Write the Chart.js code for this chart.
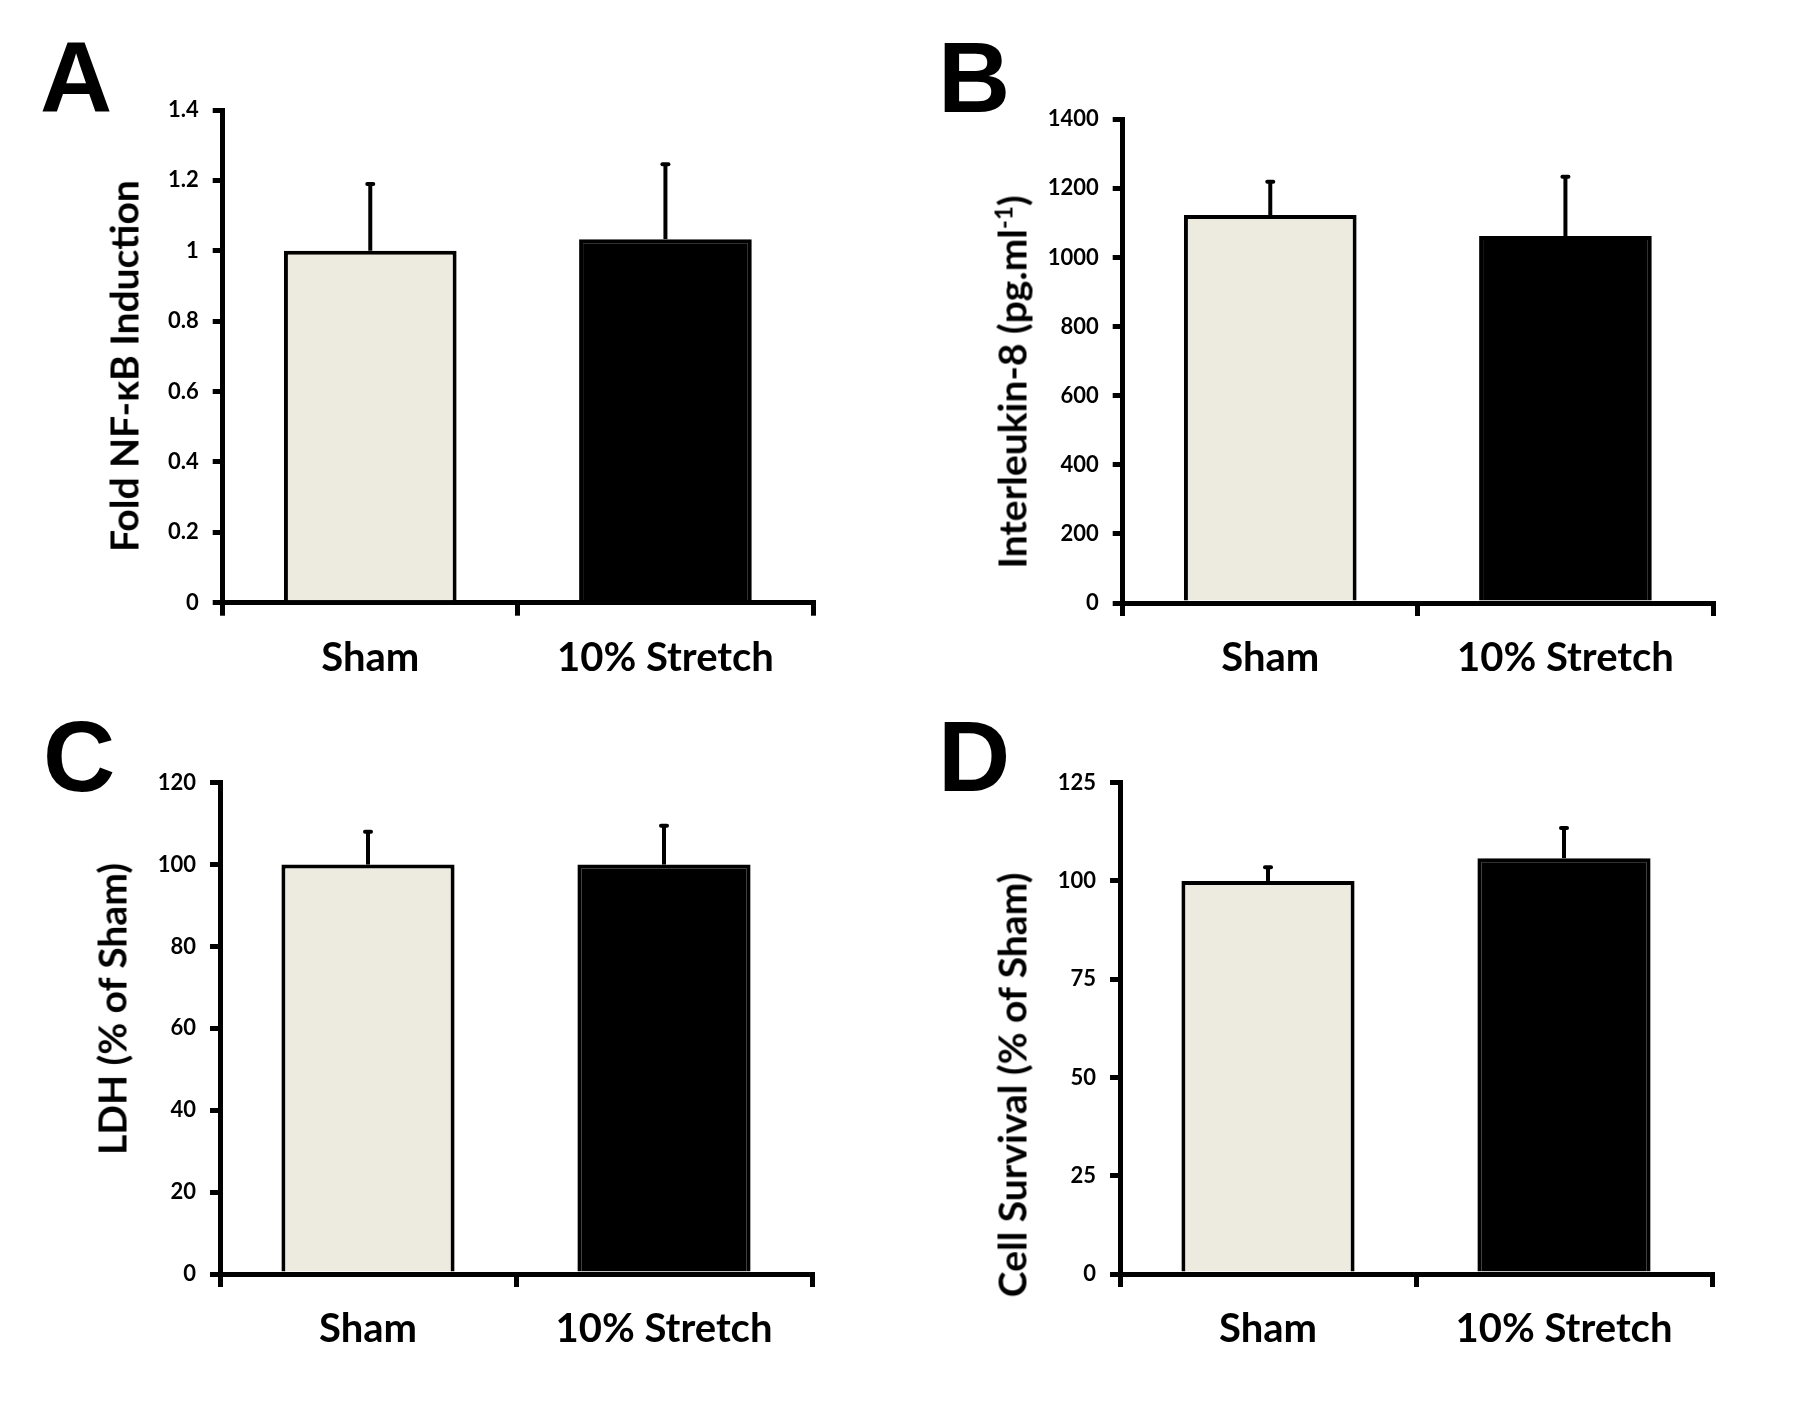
<!DOCTYPE html>
<html>
<head>
<meta charset="utf-8">
<script src="https://cdn.jsdelivr.net/npm/chart.js@4.4.1/dist/chart.umd.min.js"></script>
<style>
  body { margin: 0; background: #fff; }
  #fig { position: relative; width: 1800px; height: 1402px; background: #fff; overflow: hidden; }
  .panel { position: absolute; width: 900px; height: 701px; }
  .letter { position: absolute; font: bold 100px/100px "Liberation Sans", Arial, sans-serif; color: #000; }
  .ytitle { position: absolute; font: bold 39px/1 Lato, sans-serif; color: #000; white-space: nowrap;
            transform: translate(-50%, -50%) rotate(-90deg); }
  .ytitle sup { font-size: 24px; line-height: 0; }
</style>
</head>
<body>
<div id="fig">
  <canvas id="chartA" class="panel" width="900" height="701" style="left:0;top:0"></canvas>
  <canvas id="chartB" class="panel" width="900" height="701" style="left:900px;top:0"></canvas>
  <canvas id="chartC" class="panel" width="900" height="701" style="left:0;top:701px"></canvas>
  <canvas id="chartD" class="panel" width="900" height="701" style="left:900px;top:701px"></canvas>

  <div class="letter" style="left:40px;top:27px">A</div>
  <div class="letter" style="left:938px;top:27px">B</div>
  <div class="letter" style="left:43px;top:706px">C</div>
  <div class="letter" style="left:938px;top:706px">D</div>

  <div class="ytitle" style="left:124px;top:366px">Fold NF-κB Induction</div>
  <div class="ytitle" style="left:1012px;top:382px">Interleukin-8 (pg.ml<sup>-1</sup>)</div>
  <div class="ytitle" style="left:112px;top:1009px">LDH (% of Sham)</div>
  <div class="ytitle" style="left:1012px;top:1085px">Cell Survival (% of Sham)</div>
</div>

<script>
// groups and values (mean + upper error)
const groups = ['Sham', '10% Stretch'];
const barColors = ['#EDEAE0', '#000000'];

const nfkbMean = [1.0, 1.033];
const nfkbErr = [0.19, 0.213];
const nfkbTicks = [0, 0.2, 0.4, 0.6, 0.8, 1, 1.2, 1.4];

const il8Mean = [1123, 1062];
const il8Err = [96, 172];
const il8Ticks = [0, 200, 400, 600, 800, 1000, 1200, 1400];

const ldhMean = [100, 100];
const ldhErr = [8, 9.5];
const ldhTicks = [0, 20, 40, 60, 80, 100, 120];

const survivalMean = [100, 105.8];
const survivalErr = [3.5, 7.7];
const survivalTicks = [0, 25, 50, 75, 100, 125];

// one-sided error bars on top of each bar
const errorBarPlugin = {
  id: 'errorBars',
  afterDatasetsDraw(chart) {
    const ctx = chart.ctx;
    const yScale = chart.scales.y;
    chart.data.datasets.forEach((ds, i) => {
      chart.getDatasetMeta(i).data.forEach((bar, j) => {
        const top = yScale.getPixelForValue(ds.data[j]);
        const end = yScale.getPixelForValue(ds.data[j] + ds.errorBars[j]);
        ctx.save();
        ctx.strokeStyle = '#000';
        ctx.lineWidth = 4;
        ctx.beginPath();
        ctx.moveTo(bar.x, top);
        ctx.lineTo(bar.x, end);
        ctx.stroke();
        ctx.lineCap = 'round';
        ctx.beginPath();
        ctx.moveTo(bar.x - 3, end);
        ctx.lineTo(bar.x + 3, end);
        ctx.stroke();
        ctx.restore();
      });
    });
  }
};

function drawPanel(id, means, errs, ticks, box) {
  new Chart(document.getElementById(id), {
    type: 'bar',
    data: {
      labels: groups,
      datasets: [{
        data: means,
        errorBars: errs,
        backgroundColor: barColors,
        borderColor: '#000',
        borderWidth: 4,
        barPercentage: 0.585,
        categoryPercentage: 1
      }]
    },
    options: {
      responsive: false,
      animation: false,
      layout: { padding: { top: box.top, right: 900 - box.right, bottom: 0, left: 0 } },
      plugins: { legend: { display: false }, tooltip: { enabled: false } },
      scales: {
        x: {
          offset: true,
          grid: { offset: true, drawOnChartArea: false, color: '#000', lineWidth: 5, tickLength: 13 },
          border: { color: '#000', width: 5 },
          ticks: { color: '#000', padding: 18, font: { family: 'Lato', weight: 'bold', size: 40 } },
          afterFit: s => { s.height = 701 - box.bottom; }
        },
        y: {
          min: ticks[0],
          max: ticks[ticks.length - 1],
          afterBuildTicks: s => { s.ticks = ticks.map(v => ({ value: v })); },
          grid: { drawOnChartArea: false, color: '#000', lineWidth: 5, tickLength: 10 },
          border: { color: '#000', width: 5 },
          ticks: {
            color: '#000', padding: 14,
            font: { family: 'Lato', weight: 'bold', size: 22 },
            callback: v => String(v)
          },
          afterFit: s => { s.width = box.left; }
        }
      }
    },
    plugins: [errorBarPlugin]
  });
}

drawPanel('chartA', nfkbMean, nfkbErr, nfkbTicks, { left: 222.7, top: 110, right: 813, bottom: 602.7 });
drawPanel('chartB', il8Mean, il8Err, il8Ticks, { left: 222.7, top: 119.3, right: 813, bottom: 603 });
drawPanel('chartC', ldhMean, ldhErr, ldhTicks, { left: 220, top: 81.7, right: 812, bottom: 573 });
drawPanel('chartD', survivalMean, survivalErr, survivalTicks, { left: 220, top: 81.7, right: 812, bottom: 573 });
</script>
</body>
</html>
